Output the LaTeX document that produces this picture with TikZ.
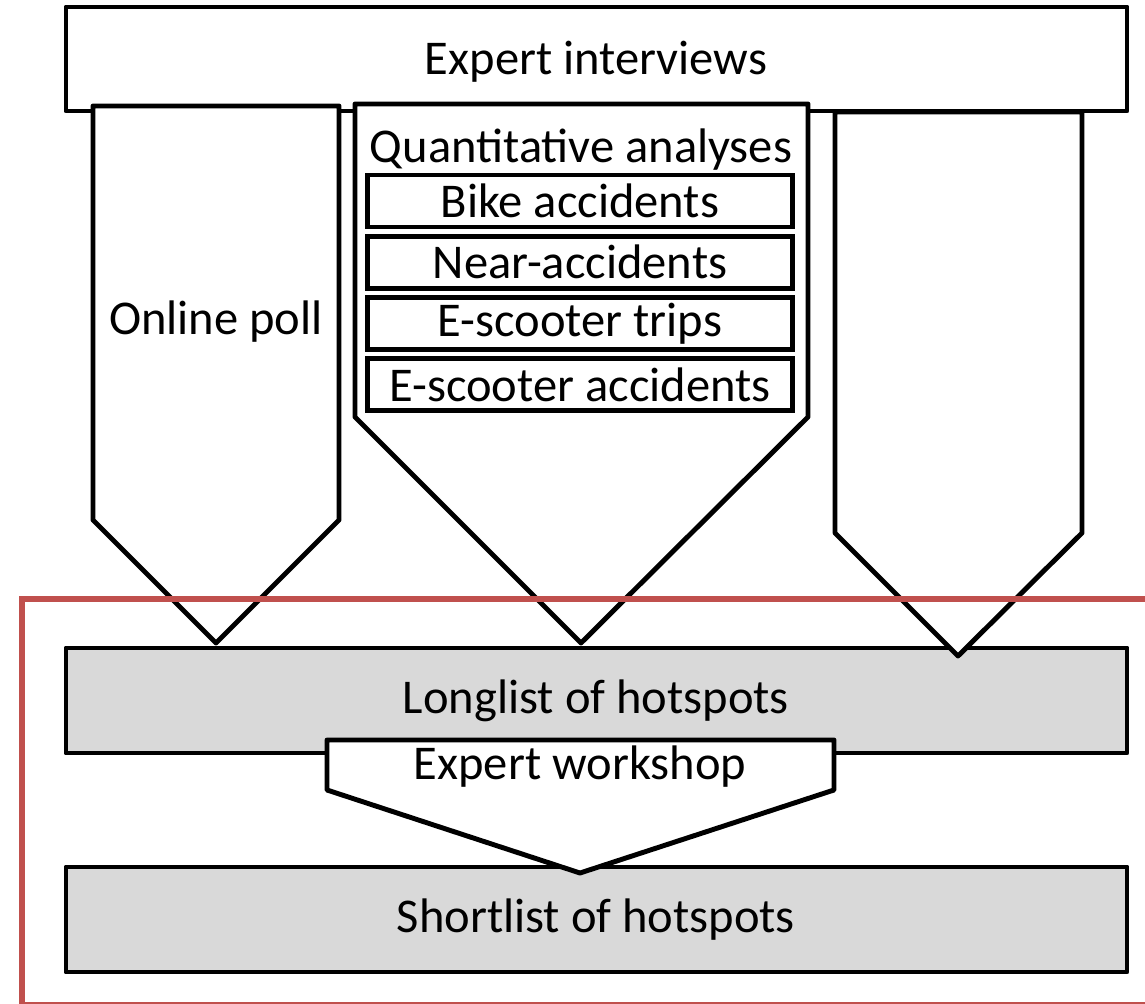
\documentclass[tikz,border=0pt]{standalone}
\usepackage{fontspec}
\setmainfont{Carlito}
\usepackage{xcolor}
\usetikzlibrary{positioning}
\definecolor{frameRed}{HTML}{C0504D}
\definecolor{listGray}{HTML}{D9D9D9}

\begin{document}
\begin{tikzpicture}[
  x=0.025cm, y=-0.025cm,
  every node/.style={font=\fontsize{34.5}{40}\selectfont, inner sep=0pt},
  outl/.style={draw=black, line width=3.5pt, line join=round},
  stage/.style={outl, fill=white},
  lst/.style={outl, fill=listGray},
  sub/.style={rectangle, draw=black, line width=3.5pt, outer sep=0pt,
              minimum width=10.6cm, minimum height=1.3cm}
]
\useasboundingbox (0,0) rectangle (1145,1004);
% top bar
\draw[stage] (66,7) rectangle (1127,111);
\node (interv) at (596,62) {Expert interviews};
% lists
\draw[lst] (66,648) rectangle (1127,753);
\node (longl) at (596,701) {Longlist of hotspots};
\draw[lst] (66,867) rectangle (1127,972);
\node (shortl) at (596,920) {Shortlist of hotspots};
% three input arrows
\draw[stage] (93,106) -- (339,106) -- (339,520) -- (216,643) -- (93,520) -- cycle;
\node (poll) at (216,322) {Online poll};
\draw[stage] (355,104) -- (808,104) -- (808,417) -- (581,643) -- (355,417) -- cycle;
\node (quant) at (581,150) {Quantitative analyses};
\node[sub] (bike) at (580,201) {Bike accidents};
\node[sub, below=0.23cm of bike] (near) {Near-accidents};
\node[sub, below=0.23cm of near] (trips) {E-scooter trips};
\node[sub, below=0.23cm of trips] (escacc) {E-scooter accidents};
\draw[stage] (835,112) -- (1082,112) -- (1082,533) -- (958,656) -- (835,533) -- cycle;
% red frame
\draw[frameRed, line width=3.8pt] (1160,599) -- (22,599) -- (22,1005) -- (1160,1005);
% workshop
\draw[stage] (327,740) -- (834,740) -- (834,790) -- (580,873) -- (327,790) -- cycle;
\node (wshop) at (580,767) {Expert workshop};
\end{tikzpicture}
\end{document}
